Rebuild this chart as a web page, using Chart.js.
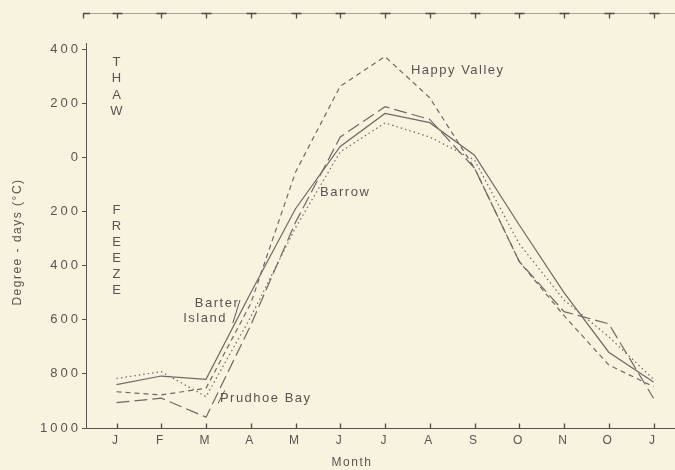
<!DOCTYPE html>
<html>
<head>
<meta charset="utf-8">
<script src="https://cdn.jsdelivr.net/npm/chart.js@4.4.1/dist/chart.umd.min.js"></script>
<style>
  html, body { margin: 0; padding: 0; background: #f8f3df; }
  #wrap { width: 675px; height: 470px; }
</style>
</head>
<body>
<div id="wrap"><canvas id="c"></canvas></div>
<script>
// month letters along the bottom, Jan to Jan
const months = ['J', 'F', 'M', 'A', 'M', 'J', 'J', 'A', 'S', 'O', 'N', 'O', 'J'];
// thaw above 0, freeze below (shown as positive numbers)
const yTicks = [400, 200, 0, -200, -400, -600, -800, -1000];

// cumulative degree-days
const barterIsland = [-840, -808, -820, -500, -190, 40, 162, 128, 8, -250, -500, -720, -830];
const barrow       = [-817, -792, -884, -590, -260, 20, 127, 75, -10, -320, -527, -663, -820];
const happyValley  = [-866, -878, -853, -540, -55, 263, 372, 220, -40, -385, -585, -767, -847];
const prudhoeBay   = [-906, -890, -960, -620, -240, 75, 187, 140, -40, -385, -570, -615, -890];

const ink = '#555555';
const lineCol = '#6a6a6a';
const FONT = "'Liberation Sans', Arial, sans-serif";

const toPts = arr => arr.map((v, i) => ({ x: i, y: v }));

function series(label, values, dash) {
  return {
    label: label,
    data: toPts(values),
    borderColor: lineCol,
    borderWidth: 1.2,
    borderDash: dash,
    pointRadius: 0,
    tension: 0,
    fill: false
  };
}

// text, leader lines and the extra frame pieces
const decor = {
  id: 'decor',
  beforeDraw(chart) {
    chart.ctx.letterSpacing = '3px';
  },
  afterDraw(chart) {
    const ctx = chart.ctx;
    const xs = chart.scales.x, ys = chart.scales.y;
    const area = chart.chartArea;
    const px = v => xs.getPixelForValue(v);
    const py = v => ys.getPixelForValue(v);
    const top = 13.5, bottom = Math.round(area.bottom) + 0.5;

    ctx.save();
    ctx.setLineDash([]);
    ctx.lineWidth = 1;

    // faint top frame line
    ctx.strokeStyle = '#a8a49a';
    ctx.beginPath();
    ctx.moveTo(area.left - 3, top);
    ctx.lineTo(area.right, top);
    ctx.stroke();

    // T-shaped month ticks on top, inward ticks at the bottom
    ctx.strokeStyle = '#4a4a4a';
    ctx.lineWidth = 1.3;
    ctx.beginPath();
    ctx.moveTo(area.left - 3, top);
    ctx.lineTo(area.left + 4, top);
    ctx.moveTo(area.left - 2.5, top);
    ctx.lineTo(area.left - 2.5, top + 5);
    for (let i = 0; i < months.length; i++) {
      const x = Math.round(px(i)) + 0.5;
      ctx.moveTo(x - 5, top);
      ctx.lineTo(x + 5, top);
      ctx.moveTo(x, top);
      ctx.lineTo(x, top + 5);
      ctx.moveTo(x, bottom);
      ctx.lineTo(x, bottom - 5);
    }
    ctx.stroke();

    // left axis line (starts a little below the frame)
    ctx.lineWidth = 1;
    ctx.strokeStyle = ink;
    ctx.beginPath();
    ctx.moveTo(area.left + 0.5, 43);
    ctx.lineTo(area.left + 0.5, area.bottom);
    ctx.stroke();

    // leader lines
    ctx.beginPath();
    ctx.moveTo(px(2.60), py(-612)); ctx.lineTo(px(2.76), py(-527));
    ctx.moveTo(px(2.27), py(-909)); ctx.lineTo(px(2.42), py(-861));
    ctx.stroke();

    ctx.fillStyle = ink;
    ctx.font = '13px ' + FONT;
    ctx.letterSpacing = '1.5px';
    ctx.textBaseline = 'middle';
    ctx.textAlign = 'left';
    ctx.fillText('Happy Valley', px(6.58), py(322));
    ctx.fillText('Barrow', px(4.55), py(-128));
    ctx.fillText('Barter', px(1.75), py(-540));
    ctx.fillText('Island', px(1.49), py(-597));
    ctx.fillText('Prudhoe Bay', px(2.31), py(-889));

    // vertical THAW / FREEZE lettering
    ctx.textAlign = 'center';
    ctx.letterSpacing = '0px';
    const thawY = [62, 78, 95, 111];
    'THAW'.split('').forEach((ch, i) => ctx.fillText(ch, px(0), thawY[i]));
    'FREEZE'.split('').forEach((ch, i) => ctx.fillText(ch, px(0), 210 + i * 16));

    // axis titles
    ctx.font = '12px ' + FONT;
    ctx.letterSpacing = '1.5px';
    ctx.fillText('Month', 352, 463);
    ctx.translate(18, 242);
    ctx.rotate(-Math.PI / 2);
    ctx.fillText('Degree - days (\u00B0C)', 0, 0);
    ctx.restore();
  }
};

Chart.defaults.font.family = FONT;
Chart.defaults.color = ink;

new Chart(document.getElementById('c'), {
  type: 'line',
  data: {
    datasets: [
      series('Barter Island', barterIsland, []),
      series('Barrow', barrow, [1.5, 3]),
      series('Happy Valley', happyValley, [5, 4]),
      series('Prudhoe Bay', prudhoeBay, [13, 5])
    ]
  },
  options: {
    responsive: true,
    maintainAspectRatio: false,
    animation: false,
    layout: { padding: { top: 14, right: 0, left: 0, bottom: 0 } },
    plugins: {
      legend: { display: false },
      tooltip: { enabled: false }
    },
    scales: {
      x: {
        type: 'linear',
        min: -0.6816,
        max: 12.48,
        afterBuildTicks: scale => { scale.ticks = months.map((m, i) => ({ value: i })); },
        afterFit: scale => { scale.height = 42; },
        ticks: {
          autoSkip: false,
          maxRotation: 0,
          padding: 5,
          font: { size: 12 },
          color: ink,
          callback: value => months[value]
        },
        grid: { display: false, drawTicks: false },
        border: { display: true, color: ink, width: 1 }
      },
      y: {
        type: 'linear',
        min: -1000,
        max: 529.4,
        afterBuildTicks: scale => { scale.ticks = yTicks.map(v => ({ value: v })); },
        afterFit: scale => { scale.width = 86; },
        ticks: {
          padding: 1,
          font: { size: 13 },
          color: ink,
          callback: value => String(Math.abs(value))
        },
        grid: { drawOnChartArea: false, drawTicks: true, tickLength: 4, color: ink },
        border: { display: false }
      }
    }
  },
  plugins: [decor]
});
</script>
</body>
</html>
